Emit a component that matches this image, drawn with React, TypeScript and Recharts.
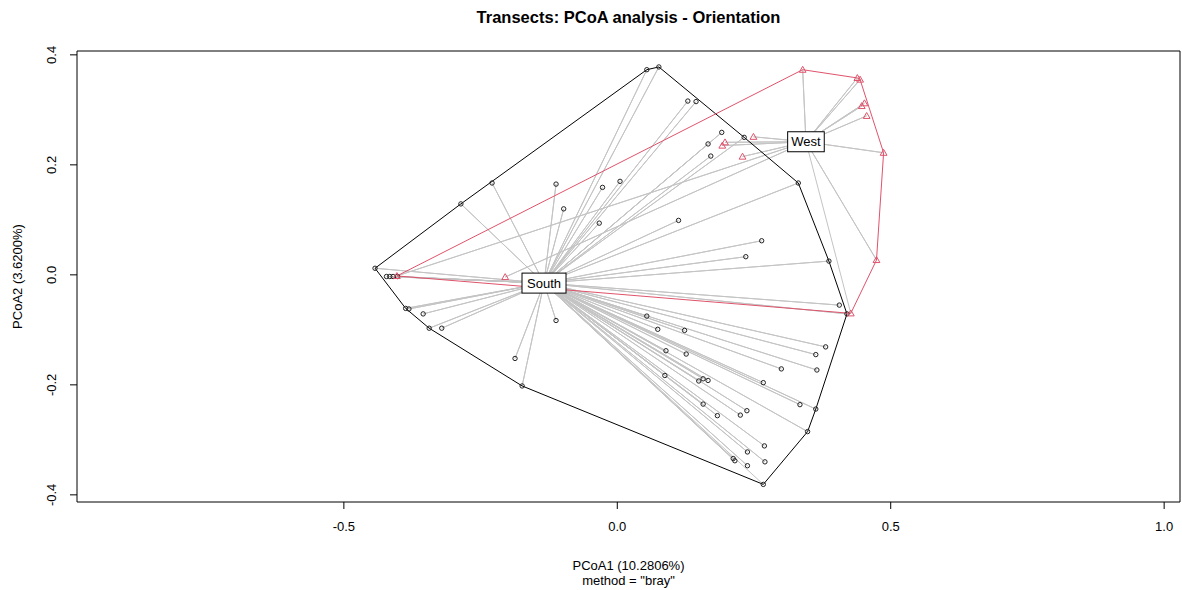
import { ScatterChart, Scatter, XAxis, YAxis, ReferenceArea } from 'recharts';

// PCoA site scores
const SOUTH_X = [
  -0.229, -0.286, -0.112, -0.098, -0.033, -0.027, -0.443, -0.422, -0.416, -0.41, -0.402,
  -0.387, -0.381, -0.355, -0.344, -0.321, -0.112, -0.187, -0.174, 0.054, 0.076, 0.129,
  0.144, 0.191, 0.166, 0.171, 0.232, 0.331, 0.005, 0.112, 0.264, 0.235, 0.387, 0.406,
  0.42, 0.054, 0.074, 0.123, 0.381, 0.363, 0.089, 0.126, 0.3, 0.365, 0.267, 0.087,
  0.149, 0.157, 0.166, 0.334, 0.363, 0.157, 0.237, 0.225, 0.183, 0.348, 0.269, 0.238,
  0.27, 0.212, 0.215, 0.238, 0.267,
];
const SOUTH_Y = [
  0.167, 0.129, 0.165, 0.12, 0.094, 0.159, 0.012, -0.003, -0.003, -0.003, -0.003,
  -0.061, -0.062, -0.071, -0.097, -0.097, -0.083, -0.152, -0.202, 0.373, 0.378, 0.316,
  0.315, 0.259, 0.238, 0.216, 0.25, 0.167, 0.17, 0.099, 0.062, 0.033, 0.025, -0.055,
  -0.071, -0.075, -0.099, -0.101, -0.131, -0.145, -0.138, -0.144, -0.171, -0.173, -0.196, -0.183,
  -0.193, -0.189, -0.192, -0.236, -0.244, -0.235, -0.247, -0.255, -0.256, -0.285, -0.311, -0.322,
  -0.34, -0.334, -0.338, -0.347, -0.381,
];
const WEST_X = [-0.403, -0.205, 0.197, 0.192, 0.229, 0.249, 0.339, 0.439, 0.444, 0.452, 0.447, 0.456, 0.487, 0.474, 0.427];
const WEST_Y = [-0.002, -0.004, 0.241, 0.235, 0.215, 0.251, 0.373, 0.358, 0.355, 0.312, 0.307, 0.289, 0.222, 0.027, -0.07];

// group centres where the spider labels sit
const GROUPS = ['South', 'West'];
const CENTRE_X = [-0.134, 0.345];
const CENTRE_Y = [-0.015, 0.242];

const X_TICKS = [-0.5, 0, 0.5, 1.0];
const Y_TICKS = [-0.4, -0.2, 0, 0.2, 0.4];
const X_DOMAIN = [-0.988, 1.029];
const Y_DOMAIN = [-0.413, 0.407];

const RED = '#DF536B';
const FONT = '"Liberation Sans", Arial, sans-serif';

type Pt = { x: number; y: number };

const toPts = (xs: number[], ys: number[]): Pt[] => xs.map((x, i) => ({ x, y: ys[i] }));

const south = toPts(SOUTH_X, SOUTH_Y);
const west = toPts(WEST_X, WEST_Y);
const centres = GROUPS.map((name, i) => ({ name, x: CENTRE_X[i], y: CENTRE_Y[i] }));

// convex hull (monotone chain), closed
function hull(pts: Pt[]): Pt[] {
  const p = [...pts].sort((a, b) => a.x - b.x || a.y - b.y);
  const cross = (o: Pt, a: Pt, b: Pt) => (a.x - o.x) * (b.y - o.y) - (a.y - o.y) * (b.x - o.x);
  const lower: Pt[] = [];
  for (const q of p) {
    while (lower.length >= 2 && cross(lower[lower.length - 2], lower[lower.length - 1], q) <= 0) lower.pop();
    lower.push(q);
  }
  const upper: Pt[] = [];
  for (let i = p.length - 1; i >= 0; i--) {
    const q = p[i];
    while (upper.length >= 2 && cross(upper[upper.length - 2], upper[upper.length - 1], q) <= 0) upper.pop();
    upper.push(q);
  }
  const h = lower.slice(0, -1).concat(upper.slice(0, -1));
  return [...h, h[0]];
}

// centre -> point -> centre -> point ... draws the spider as one polyline
const spider = (pts: Pt[], c: Pt): Pt[] => pts.flatMap((p) => [c, p]);

const noShape = () => <g />;

const Circle = (props: any) => (
  <circle cx={props.cx} cy={props.cy} r={2.2} fill="none" stroke="#222" strokeWidth={1} />
);

const Triangle = (props: any) => {
  const { cx, cy } = props;
  const s = 3.4;
  return (
    <path
      d={`M${cx},${cy - s} L${cx + s},${cy + s * 0.75} L${cx - s},${cy + s * 0.75} Z`}
      fill="none"
      stroke={RED}
      strokeWidth={1}
    />
  );
};

const Label = (props: any) => {
  const { cx, cy, payload } = props;
  const w = payload.name.length * 7.4 + 7;
  return (
    <g>
      <rect x={cx - w / 2} y={cy - 10} width={w} height={20} fill="#fff" stroke="#000" strokeWidth={1} />
      <text x={cx} y={cy + 4.5} textAnchor="middle" fontSize={13} fontFamily={FONT} fill="#000">
        {payload.name}
      </text>
    </g>
  );
};

const XTick = (props: any) => (
  <text x={props.x} y={props.y + 20} textAnchor="middle" fontSize={13} fontFamily={FONT} fill="#000">
    {Number(props.payload.value).toFixed(1)}
  </text>
);

const YTick = (props: any) => (
  <text
    transform={`translate(${props.x - 12},${props.y}) rotate(-90)`}
    textAnchor="middle"
    fontSize={13}
    fontFamily={FONT}
    fill="#000"
  >
    {Number(props.payload.value).toFixed(1)}
  </text>
);

export default function App() {
  const W = 1182;
  const H = 590;
  const left = 77;
  const bottom = 88;
  const margin = { top: 51, right: 2, bottom: 0, left: 0 };
  const midX = left + (W - left - margin.right) / 2;
  const midY = margin.top + (H - margin.top - bottom) / 2;

  return (
    <div style={{ position: 'absolute', left: 0, top: 0, width: W, height: H, background: '#fff' }}>
      <ScatterChart width={W} height={H} margin={margin}>
        <XAxis
          type="number"
          dataKey="x"
          domain={X_DOMAIN}
          ticks={X_TICKS}
          allowDataOverflow
          axisLine={false}
          tickLine={{ stroke: '#000' }}
          tickSize={7}
          tick={XTick}
          height={bottom}
        />
        <YAxis
          type="number"
          dataKey="y"
          domain={Y_DOMAIN}
          ticks={Y_TICKS}
          allowDataOverflow
          axisLine={false}
          tickLine={{ stroke: '#000' }}
          tickSize={7}
          tick={YTick}
          width={left}
        />
        <ReferenceArea
          x1={X_DOMAIN[0]}
          x2={X_DOMAIN[1]}
          y1={Y_DOMAIN[0]}
          y2={Y_DOMAIN[1]}
          fill="none"
          stroke="#000"
          strokeWidth={1}
          ifOverflow="visible"
        />
        <Scatter
          data={spider(south, centres[0])}
          shape={noShape}
          line={{ stroke: '#c4c4c4', strokeWidth: 1 }}
          fill="#c4c4c4"
          isAnimationActive={false}
        />
        <Scatter
          data={spider(west, centres[1])}
          shape={noShape}
          line={{ stroke: '#c4c4c4', strokeWidth: 1 }}
          fill="#c4c4c4"
          isAnimationActive={false}
        />
        <Scatter
          data={hull(south)}
          shape={noShape}
          line={{ stroke: '#000', strokeWidth: 1 }}
          fill="#000"
          isAnimationActive={false}
        />
        <Scatter
          data={hull(west)}
          shape={noShape}
          line={{ stroke: RED, strokeWidth: 1 }}
          fill={RED}
          isAnimationActive={false}
        />
        <Scatter data={south} shape={Circle} fill="#222" isAnimationActive={false} />
        <Scatter data={west} shape={Triangle} fill={RED} isAnimationActive={false} />
        <Scatter data={centres} shape={Label} fill="#000" isAnimationActive={false} />
      </ScatterChart>
      <svg
        width={W}
        height={H}
        style={{ position: 'absolute', left: 0, top: 0, pointerEvents: 'none' }}
        fontFamily={FONT}
      >
        <text x={midX} y={23} textAnchor="middle" fontSize={16.5} fontWeight="bold" fill="#000">
          Transects: PCoA analysis - Orientation
        </text>
        <text x={midX} y={570} textAnchor="middle" fontSize={13} fill="#000">
          PCoA1 (10.2806%)
        </text>
        <text x={midX} y={585} textAnchor="middle" fontSize={13} fill="#000">
          method = "bray"
        </text>
        <text transform={`translate(22,${midY}) rotate(-90)`} textAnchor="middle" fontSize={13} fill="#000">
          PCoA2 (3.6200%)
        </text>
      </svg>
    </div>
  );
}
